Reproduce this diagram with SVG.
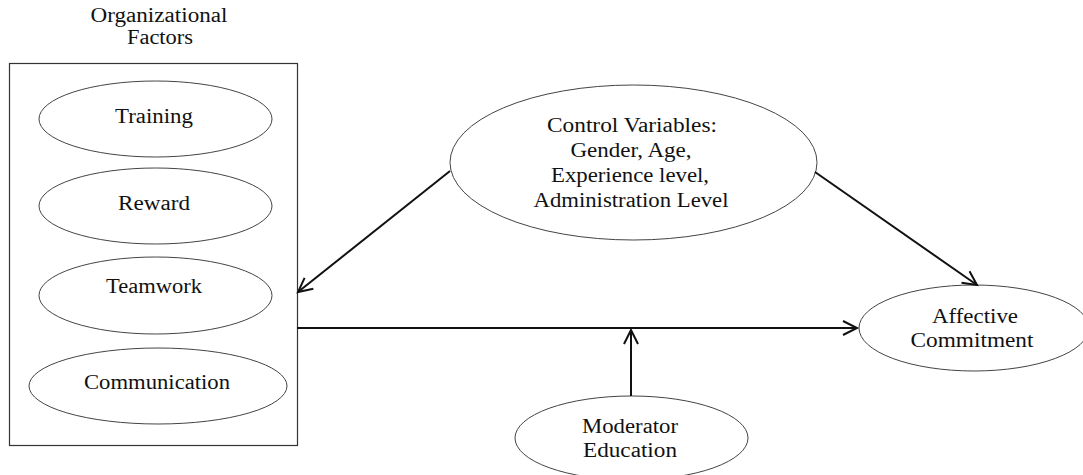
<svg xmlns="http://www.w3.org/2000/svg" width="1083" height="475" viewBox="0 0 1083 475">
<style>
.t{font-family:"Liberation Serif","Times New Roman",serif;font-size:20px;fill:#111;text-anchor:middle}
.n{fill:#fff;stroke:#444;stroke-width:1}
.c{stroke:#111;stroke-width:2;fill:none}
</style>
<defs>
<marker id="ah" markerWidth="20" markerHeight="20" refX="17" refY="10" orient="auto" markerUnits="userSpaceOnUse">
<path d="M3,3 L17,10 L3,17" fill="none" stroke="#111" stroke-width="2"/>
</marker>
</defs>
<rect width="1083" height="475" fill="#fff"/>
<g id="title">
<text class="t" x="159" y="22" textLength="137" lengthAdjust="spacingAndGlyphs">Organizational</text>
<text class="t" x="160" y="44" textLength="66" lengthAdjust="spacingAndGlyphs">Factors</text>
</g>
<g id="org-box">
<rect x="9.5" y="63.5" width="288" height="382" fill="#fff" stroke="#333" stroke-width="1.2"/>
</g>
<g id="training">
<ellipse class="n" cx="155.5" cy="119" rx="116.5" ry="38"/>
<text class="t" x="154" y="123" textLength="78" lengthAdjust="spacingAndGlyphs">Training</text>
</g>
<g id="reward">
<ellipse class="n" cx="155.5" cy="206" rx="116.5" ry="38"/>
<text class="t" x="154" y="210" textLength="72" lengthAdjust="spacingAndGlyphs">Reward</text>
</g>
<g id="teamwork">
<ellipse class="n" cx="155.5" cy="295.5" rx="116.5" ry="38.5"/>
<text class="t" x="154" y="293" textLength="96" lengthAdjust="spacingAndGlyphs">Teamwork</text>
</g>
<g id="communication">
<ellipse class="n" cx="158" cy="386" rx="129" ry="38"/>
<text class="t" x="157" y="389" textLength="146" lengthAdjust="spacingAndGlyphs">Communication</text>
</g>
<g id="control">
<ellipse class="n" cx="633.5" cy="162.5" rx="183.5" ry="77.5"/>
<text class="t" x="632" y="132" textLength="170" lengthAdjust="spacingAndGlyphs">Control Variables:</text>
<text class="t" x="631" y="157" textLength="121" lengthAdjust="spacingAndGlyphs">Gender, Age,</text>
<text class="t" x="630" y="182" textLength="158" lengthAdjust="spacingAndGlyphs">Experience level,</text>
<text class="t" x="631" y="207" textLength="195" lengthAdjust="spacingAndGlyphs">Administration Level</text>
</g>
<g id="affective">
<ellipse class="n" cx="974" cy="328" rx="115" ry="43"/>
<text class="t" x="975" y="323" textLength="86" lengthAdjust="spacingAndGlyphs">Affective</text>
<text class="t" x="972" y="347" textLength="123" lengthAdjust="spacingAndGlyphs">Commitment</text>
</g>
<g id="moderator">
<ellipse class="n" cx="631.5" cy="438" rx="116.5" ry="42"/>
<text class="t" x="630" y="433" textLength="96" lengthAdjust="spacingAndGlyphs">Moderator</text>
<text class="t" x="630" y="457" textLength="94" lengthAdjust="spacingAndGlyphs">Education</text>
</g>
<g id="connectors">
<line class="c" x1="450" y1="171" x2="298" y2="292" marker-end="url(#ah)"/>
<line class="c" x1="815" y1="172" x2="977" y2="285" marker-end="url(#ah)"/>
<line class="c" x1="297" y1="328" x2="857" y2="328" marker-end="url(#ah)"/>
<line class="c" x1="631" y1="396" x2="631" y2="330" marker-end="url(#ah)"/>
</g>
</svg>
